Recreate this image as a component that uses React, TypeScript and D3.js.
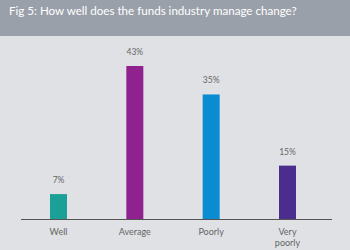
import * as d3 from "d3";

const W = 350;
const H = 250;
const MARGIN = { left: 21, right: 18, top: 36 };

const categories = ["Well", "Average", "Poorly", "Very poorly"];
const values = [7, 43, 35, 15];
const valueLabels = ["7%", "43%", "35%", "15%"];
const colors = ["#1aa096", "#90228f", "#0a8cd2", "#4b2d8d"];
const title = "Fig 5: How well does the funds industry manage change?";

export default function App() {
  const baseY = 219;
  // bar centres
  const x = d3.scalePoint<string>().domain(categories).range([58.5, 287.5]);
  const y = d3.scaleLinear().domain([0, 43]).range([baseY, 66]);
  const barW = 17;

  return (
    <svg
      width={W}
      height={H}
      style={{ position: "absolute", left: 0, top: 0, display: "block" }}
      fontFamily="Lato, 'Open Sans', sans-serif"
    >
      <rect width={W} height={H} fill="#dfe1e4" />
      <rect width={W} height={MARGIN.top} fill="#9aa0a9" />
      <text x={9} y={15} fill="#ffffff" fontSize={11.6}>
        {title}
      </text>

      {categories.map((c, i) => {
        const cx = x(c) ?? 0;
        const top = y(values[i]);
        const words = c.split(" ");
        return (
          <g key={c}>
            <rect
              x={cx - barW / 2}
              y={top}
              width={barW}
              height={baseY - top}
              fill={colors[i]}
            />
            <text
              x={cx}
              y={top - 11}
              textAnchor="middle"
              fontSize={8.5}
              fill="#666"
            >
              {valueLabels[i]}
            </text>
            {words.map((w, j) => (
              <text
                key={w}
                x={cx}
                y={235 + j * 10.5}
                textAnchor="middle"
                fontSize={9}
                fill="#666"
              >
                {w}
              </text>
            ))}
          </g>
        );
      })}

      <line
        x1={MARGIN.left}
        x2={W - MARGIN.right}
        y1={baseY + 0.5}
        y2={baseY + 0.5}
        stroke="#555"
        strokeWidth={1}
      />
    </svg>
  );
}
